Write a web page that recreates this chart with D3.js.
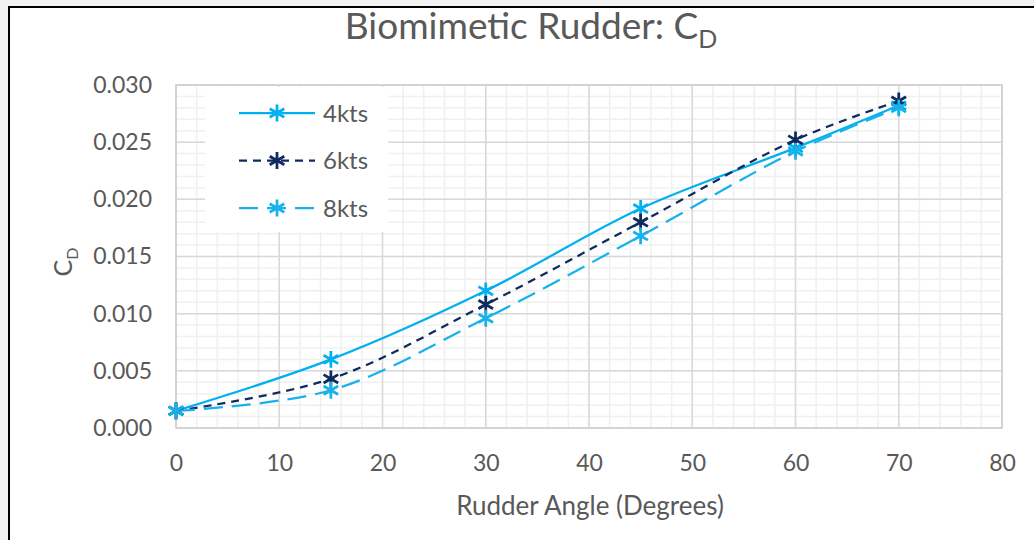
<!DOCTYPE html>
<html><head><meta charset="utf-8">
<script src="https://cdn.jsdelivr.net/npm/d3@7"></script>
<style>
body{margin:0;background:#f2f2f2;}
svg{display:block;font-family:Lato, "Open Sans", sans-serif;}
</style></head>
<body>
<svg id="c" width="1034" height="540"></svg>
<script>
const angles = [0, 15, 30, 45, 60, 70];
const cd4kts = [0.0015, 0.0060, 0.0120, 0.0192, 0.0245, 0.0282];
const cd6kts = [0.0015, 0.0043, 0.0108, 0.0180, 0.0252, 0.0286];
const cd8kts = [0.0015, 0.0033, 0.0096, 0.0168, 0.0242, 0.0280];
const seriesNames = ["4kts", "6kts", "8kts"];
const xTicks = [0, 10, 20, 30, 40, 50, 60, 70, 80];
const yTicks = [0, 0.005, 0.010, 0.015, 0.020, 0.025, 0.030];

const svg = d3.select("#c");
// chart frame
svg.append("rect").attr("x", 9).attr("y", 7).attr("width", 1040).attr("height", 560)
  .attr("fill", "#fff").attr("stroke", "#000").attr("stroke-width", 2);

const L = 176, R = 1002, T = 85, B = 428;
const x = d3.scaleLinear().domain([0, 80]).range([L, R]);
const y = d3.scaleLinear().domain([0, 0.030]).range([B, T]);

const g = svg.append("g");
// minor grid
g.selectAll("line.mx").data(d3.range(0, 81, 2)).join("line")
  .attr("x1", d => x(d)).attr("x2", d => x(d)).attr("y1", T).attr("y2", B)
  .attr("stroke", "#f0f0f0").attr("stroke-width", 1.5);
g.selectAll("line.my").data(d3.range(0, 31, 1).map(v => v / 1000)).join("line")
  .attr("y1", d => y(d)).attr("y2", d => y(d)).attr("x1", L).attr("x2", R)
  .attr("stroke", "#f0f0f0").attr("stroke-width", 1.5);
// major grid
g.selectAll("line.Mx").data(xTicks).join("line")
  .attr("x1", d => x(d)).attr("x2", d => x(d)).attr("y1", T).attr("y2", B)
  .attr("stroke", "#d9d9d9").attr("stroke-width", 1.5);
g.selectAll("line.My").data(yTicks).join("line")
  .attr("y1", d => y(d)).attr("y2", d => y(d)).attr("x1", L).attr("x2", R)
  .attr("stroke", "#d9d9d9").attr("stroke-width", 1.5);
g.append("rect").attr("x", L).attr("y", T).attr("width", R - L).attr("height", B - T)
  .attr("fill", "none").attr("stroke", "#d0d0d0").attr("stroke-width", 1.5);

// axes (labels only)
const xAxis = d3.axisBottom(x).tickValues(xTicks).tickSize(0).tickPadding(0).tickFormat(d3.format("d"));
const xa = svg.append("g").attr("transform", `translate(0,${B + 27})`).call(xAxis);
xa.select(".domain").remove();
xa.selectAll("text").attr("font-size", 23).attr("fill", "#595959").attr("font-family", "Lato, sans-serif");
const yAxis = d3.axisLeft(y).tickValues(yTicks).tickSize(0).tickPadding(0).tickFormat(d3.format(".3f"));
const ya = svg.append("g").attr("transform", `translate(${L - 24},0)`).call(yAxis);
ya.select(".domain").remove();
ya.selectAll("text").attr("font-size", 23).attr("fill", "#595959").attr("font-family", "Lato, sans-serif");

// titles
const title = svg.append("text").attr("x", 531).attr("y", 39).attr("text-anchor", "middle")
  .attr("font-size", 37).attr("fill", "#595959");
title.append("tspan").text("Biomimetic Rudder: C");
title.append("tspan").attr("font-size", 25).attr("dy", 9).text("D");

svg.append("text").attr("x", 590).attr("y", 515).attr("text-anchor", "middle")
  .attr("font-size", 26).attr("fill", "#595959").text("Rudder Angle (Degrees)");

const yt = svg.append("text").attr("transform", "translate(72,262) rotate(-90)")
  .attr("text-anchor", "middle").attr("font-size", 25).attr("fill", "#595959");
yt.append("tspan").text("C");
yt.append("tspan").attr("font-size", 16).attr("dy", 6).text("D");

// series
const series = [
  {name: seriesNames[0], vals: cd4kts, color: "#00b0f0", dash: null},
  {name: seriesNames[1], vals: cd6kts, color: "#0f2a5e", dash: "8,6"},
  {name: seriesNames[2], vals: cd8kts, color: "#18b2ea", dash: "19,9"}
];
const line = d3.line().x(d => x(d[0])).y(d => y(d[1])).curve(d3.curveCatmullRom.alpha(0.5));
const sym = d3.symbol().type(d3.symbolAsterisk).size(200);

series.forEach(s => {
  const pts = angles.map((a, i) => [a, s.vals[i]]);
  svg.append("path").datum(pts).attr("d", line).attr("fill", "none")
    .attr("stroke", s.color).attr("stroke-width", 2.25)
    .attr("stroke-dasharray", s.dash);
});
series.forEach(s => {
  const pts = angles.map((a, i) => [a, s.vals[i]]);
  svg.append("g").selectAll("path").data(pts).join("path")
    .attr("transform", d => `translate(${x(d[0])},${y(d[1])})`)
    .attr("d", sym).attr("fill", "none").attr("stroke", s.color).attr("stroke-width", 2.75);
});

// legend
const lg = svg.append("g");
lg.append("rect").attr("x", 205).attr("y", 87).attr("width", 183).attr("height", 145).attr("fill", "#fff");
series.forEach((s, i) => {
  const cy = 113 + i * 47.5;
  lg.append("line").attr("x1", 239).attr("x2", 315).attr("y1", cy).attr("y2", cy)
    .attr("stroke", s.color).attr("stroke-width", 2.25).attr("stroke-dasharray", s.dash);
  lg.append("path").attr("transform", `translate(277,${cy})`).attr("d", sym)
    .attr("fill", "none").attr("stroke", s.color).attr("stroke-width", 2.75);
  lg.append("text").attr("x", 323).attr("y", cy + 8.5).attr("font-size", 24).attr("fill", "#595959").text(s.name);
});
</script>
</body></html>
